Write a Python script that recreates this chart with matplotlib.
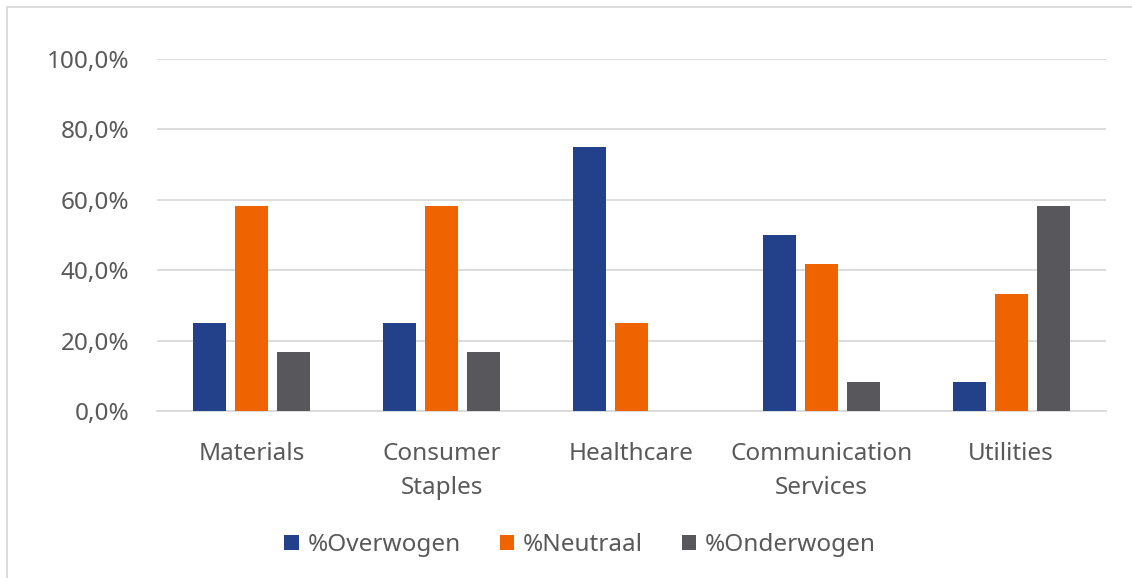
import numpy as np
import matplotlib
matplotlib.use("Agg")
import matplotlib.pyplot as plt
from matplotlib.patches import Rectangle
from matplotlib.ticker import FuncFormatter

# data
categories = ["Materials", "Consumer\nStaples", "Healthcare", "Communication\nServices", "Utilities"]
series_names = ["%Overwogen", "%Neutraal", "%Onderwogen"]
overwogen = [25.0, 25.0, 75.0, 50.0, 8.3]
neutraal = [58.3, 58.3, 25.0, 41.7, 33.3]
onderwogen = [16.7, 16.7, 0.0, 8.3, 58.3]
colors = ["#22418A", "#F06400", "#58575C"]

text_color = "#595959"
fs = 17.5
plt.rcParams['font.family'] = ['Noto Sans', 'DejaVu Sans']

fig = plt.figure(figsize=(11.32, 5.78), dpi=100)
ax = fig.add_axes([157 / 1132, 1 - 411 / 578, 949 / 1132, 352 / 578])

x = np.arange(len(categories))
width = 0.174
step = 0.221
for i, (vals, name) in enumerate(zip([overwogen, neutraal, onderwogen], series_names)):
    ax.bar(x + (i - 1) * step, np.array(vals) / 100, width, color=colors[i], label=name, zorder=3)

ax.set_xlim(-0.5, len(categories) - 0.5)
ax.set_ylim(0, 1)
ax.set_yticks(np.arange(0, 1.01, 0.2))
ax.yaxis.set_major_formatter(FuncFormatter(lambda v, p: f"{v * 100:.1f}%".replace(".", ",")))
ax.set_xticks(x)
ax.set_xticklabels(categories, linespacing=1.6)

ax.grid(axis='y', color="#D9D9D9", linewidth=1.3, zorder=0)
for s in ["top", "right", "left"]:
    ax.spines[s].set_visible(False)
ax.spines["bottom"].set_color("#D9D9D9")
ax.spines["bottom"].set_linewidth(1.3)
ax.tick_params(axis='both', length=0, labelsize=fs, labelcolor=text_color)
ax.tick_params(axis='y', pad=20)
ax.tick_params(axis='x', pad=22)

fig.legend(loc='center', bbox_to_anchor=(580 / 1132, 1 - 545 / 578), ncol=3, frameon=False,
           fontsize=fs, labelcolor=text_color, handlelength=0.6, handleheight=0.6,
           handletextpad=0.35, columnspacing=1.6)

# outer chart border
fig.patches.append(Rectangle((7 / 1132, -0.01), 1.02, 1 - 7 / 578 + 0.01, transform=fig.transFigure,
                             fill=False, edgecolor="#D9D9D9", linewidth=1.3))

fig.savefig("out.png", dpi=100, facecolor="white")
